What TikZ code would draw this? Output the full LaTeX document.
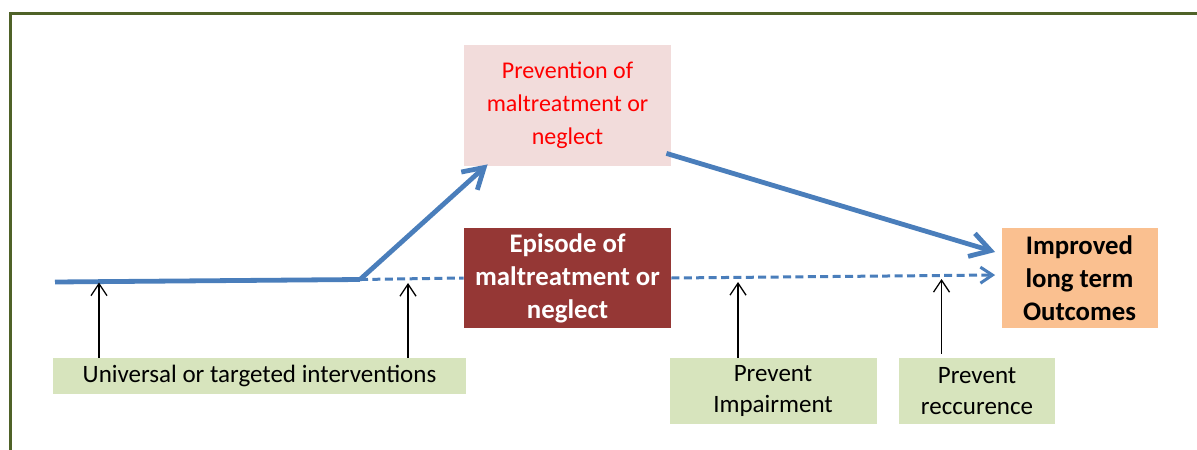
\documentclass[tikz,border=0pt]{standalone}
\usepackage{fontspec}
\setmainfont{Carlito}
\usetikzlibrary{arrows.meta}

\definecolor{framegreen}{HTML}{4F6228}
\definecolor{lineblue}{HTML}{4A7EBB}
\definecolor{prevpink}{HTML}{F2DCDB}
\definecolor{episred}{HTML}{953735}
\definecolor{outcorange}{HTML}{FAC090}
\definecolor{actgreen}{HTML}{D7E4BD}

\begin{document}
\begin{tikzpicture}[x=0.5pt,y=-0.5pt]
\tikzstyle{every node}+=[inner sep=0pt, align=center, font=\fontsize{12}{16.5}\selectfont]
\tikzstyle{stage}=[minimum width=103.5pt]
\tikzstyle{boldtext}=[font=\fontsize{13.4}{16.5}\selectfont\bfseries]
\tikzstyle{action}=[fill=actgreen, minimum height=33pt, font=\fontsize{12.5}{15.5}\selectfont]
\tikzstyle{mainline}=[lineblue, line width=2.4pt]
\tikzstyle{bigarrow}=[mainline, -{Straight Barb[length=10pt,width=12pt]}]
\tikzstyle{dashline}=[lineblue, line width=1.5pt, dash pattern=on 4pt off 2.2pt]
\tikzstyle{lever}=[black, line width=0.65pt, -{Straight Barb[length=6pt,width=8pt]}]
\useasboundingbox (0,0) rectangle (1197,449);
\draw [framegreen, line width=1.65pt] (1210,13.5) -- (10.5,13.5) -- (10.5,470);
% time line
\coordinate (start) at (55,282);
\coordinate (split) at (360,279.5);
\coordinate (t1) at (99,282.5);
\coordinate (t2) at (408,283);
\coordinate (t3) at (738,282);
\coordinate (t4) at (941.5,279);
\node [stage, fill=prevpink, text=red, minimum height=60.5pt] (prev) at (567.5,105.5) {Prevention of\\maltreatment or\\neglect};
\node [stage, boldtext, fill=episred, text=white, minimum height=50pt] (epis) at (567.5,278) {Episode of\\maltreatment or\\neglect};
\node [boldtext, fill=outcorange, minimum width=78pt, minimum height=50pt] (outc) at (1079.5,278) {Improved\\long term\\Outcomes};
\node [action, minimum width=206.5pt, minimum height=18pt] (univ) at (259.5,376) {Universal or targeted interventions};
\node [action, minimum width=103.5pt] (impair) at (773,391) {Prevent\\Impairment};
\node [action, minimum width=78pt] (recur) at (977,391) {Prevent\\reccurence};
% arrows
\draw [mainline] (start) -- (split);
\draw [bigarrow] (split) -- ([shift={(24,-2)}]prev.south west);
\draw [bigarrow] ([shift={(-5,-13)}]prev.south east) -- ([shift={(-6,-26)}]outc.west);
\draw [dashline] (split) -- (epis.west);
\draw [dashline, -{Straight Barb[length=6pt,width=8pt]}] (epis.east) -- ([shift={(-6,-3)}]outc.west);
\draw [lever] (univ.north -| t1) -- (t1);
\draw [lever] (univ.north -| t2) -- (t2);
\draw [lever] (impair.north -| t3) -- (t3);
\draw [lever, shorten <=2pt] (recur.north -| t4) -- (t4);
\end{tikzpicture}
\end{document}
